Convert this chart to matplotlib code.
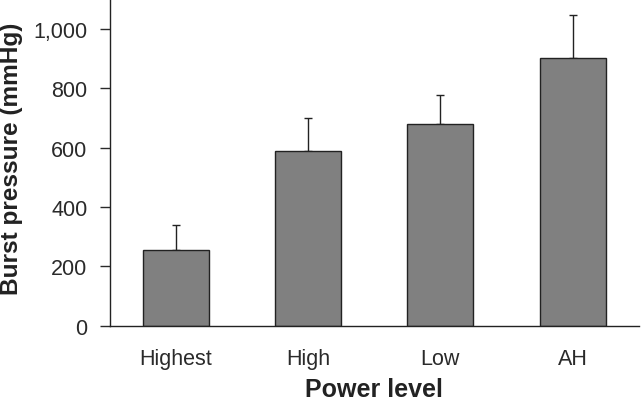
import matplotlib.pyplot as plt
from matplotlib.ticker import FuncFormatter

levels = ["Highest", "High", "Low", "AH"]
pressure = [255, 587, 678, 903]
err_up = [84, 114, 100, 144]

plt.rcParams['font.family'] = ['Liberation Sans', 'DejaVu Sans']

fig = plt.figure(figsize=(6.42, 4.02), dpi=100)
ax = fig.add_axes([0.171, 0.187, 0.824, 0.813])

x = list(range(len(levels)))
ax.bar(x, pressure, width=0.5, color='#808080', edgecolor='#222222', linewidth=1.0, zorder=2)
ax.errorbar(x, pressure, yerr=[[0] * len(x), err_up], fmt='none', ecolor='#222222',
            elinewidth=1.0, capsize=3, capthick=1.0, zorder=1)

ax.set_xlim(-0.5, 3.5)
ax.set_ylim(0, 1100)
ax.set_yticks([0, 200, 400, 600, 800, 1000])
ax.yaxis.set_major_formatter(FuncFormatter(lambda v, p: f"{int(v):,}"))
ax.set_xticks(x)
ax.set_xticklabels(levels)
ax.tick_params(axis='x', length=0, pad=16, labelsize=15.5, colors='#2a2a2a')
ax.tick_params(axis='y', direction='out', length=7, width=1.0, pad=9, labelsize=15.5, colors='#2a2a2a')

for s in ['top', 'right']:
    ax.spines[s].set_visible(False)
for s in ['left', 'bottom']:
    ax.spines[s].set_color('#222222')
    ax.spines[s].set_linewidth(1.0)

ax.set_xlabel("Power level", fontsize=18, fontweight='bold', color='#222222', labelpad=6)
ax.set_ylabel("Burst pressure (mmHg)", fontsize=17.6, fontweight='bold', color='#222222')
ax.yaxis.set_label_coords(-0.164, 0.515)

fig.savefig('out.png', dpi=100)
